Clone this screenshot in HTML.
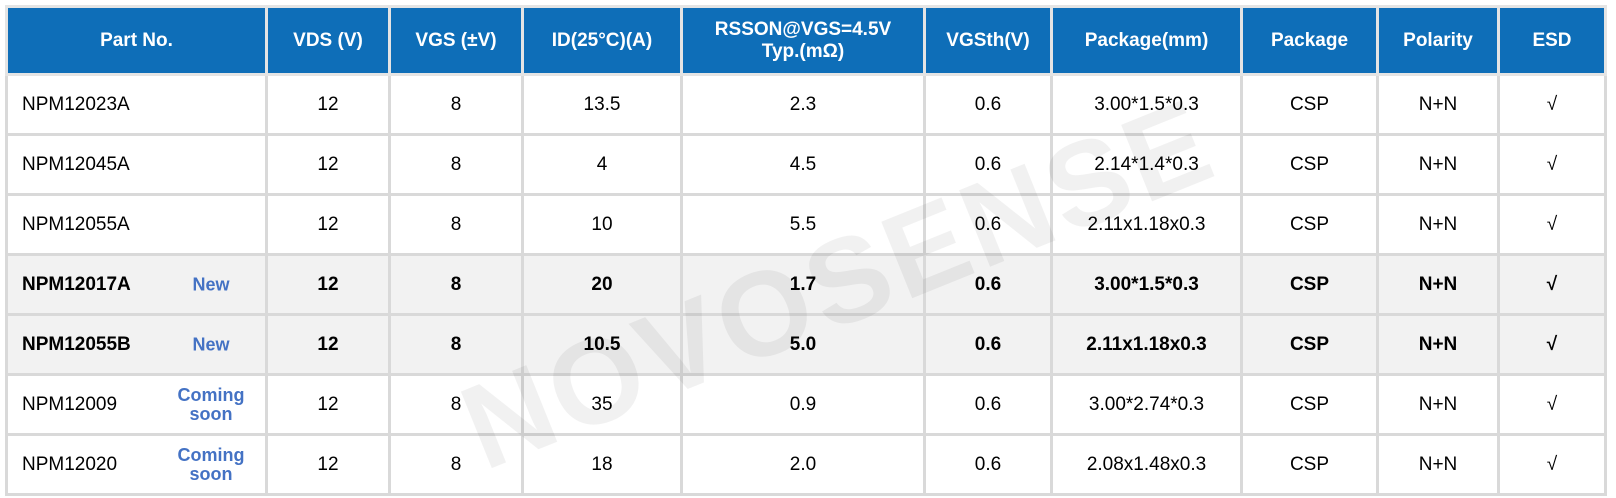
<!DOCTYPE html>
<html><head><meta charset="utf-8"><style>
body{margin:0;width:1616px;height:498px;background:#fff;overflow:hidden;position:relative;font-family:"Liberation Sans",Arial,sans-serif;}
table{position:absolute;left:5px;top:5px;border-collapse:collapse;table-layout:fixed;}
td,th{border:3px solid #d9d9d9;text-align:center;font-size:19px;color:#000;padding:0;}
th{background:#0e6eb8;color:#fff;font-weight:bold;height:65px;border-color:#e4e4e4;line-height:22px;}
td{height:57px;}
td.pn{text-align:left;padding-left:14px;position:relative;}
tr.hl td{background:#f2f2f2;font-weight:bold;}
.tag{position:absolute;color:#4472c4;font-weight:bold;font-size:18px;line-height:19px;text-align:center;width:90px;left:158px;top:50%;transform:translateY(-50%);}
.wm{position:absolute;left:440px;top:215px;font-size:120px;font-weight:bold;color:rgba(0,0,0,0.055);transform:rotate(-22deg);letter-spacing:4px;z-index:2;pointer-events:none}
</style></head><body>
<table>
<colgroup><col style="width:260px"><col style="width:123px"><col style="width:133px"><col style="width:159px"><col style="width:243px"><col style="width:127px"><col style="width:190px"><col style="width:136px"><col style="width:121px"><col style="width:107px"></colgroup>
<tr><th>Part No.</th><th>VDS (V)</th><th>VGS (±V)</th><th>ID(25°C)(A)</th><th>RSSON@VGS=4.5V<br>Typ.(mΩ)</th><th>VGSth(V)</th><th>Package(mm)</th><th>Package</th><th>Polarity</th><th>ESD</th></tr>
<tr><td class="pn">NPM12023A</td><td>12</td><td>8</td><td>13.5</td><td>2.3</td><td>0.6</td><td>3.00*1.5*0.3</td><td>CSP</td><td>N+N</td><td>√</td></tr>
<tr><td class="pn">NPM12045A</td><td>12</td><td>8</td><td>4</td><td>4.5</td><td>0.6</td><td>2.14*1.4*0.3</td><td>CSP</td><td>N+N</td><td>√</td></tr>
<tr><td class="pn">NPM12055A</td><td>12</td><td>8</td><td>10</td><td>5.5</td><td>0.6</td><td>2.11x1.18x0.3</td><td>CSP</td><td>N+N</td><td>√</td></tr>
<tr class="hl"><td class="pn">NPM12017A<span class="tag">New</span></td><td>12</td><td>8</td><td>20</td><td>1.7</td><td>0.6</td><td>3.00*1.5*0.3</td><td>CSP</td><td>N+N</td><td>√</td></tr>
<tr class="hl"><td class="pn">NPM12055B<span class="tag">New</span></td><td>12</td><td>8</td><td>10.5</td><td>5.0</td><td>0.6</td><td>2.11x1.18x0.3</td><td>CSP</td><td>N+N</td><td>√</td></tr>
<tr><td class="pn">NPM12009<span class="tag">Coming<br>soon</span></td><td>12</td><td>8</td><td>35</td><td>0.9</td><td>0.6</td><td>3.00*2.74*0.3</td><td>CSP</td><td>N+N</td><td>√</td></tr>
<tr><td class="pn">NPM12020<span class="tag">Coming<br>soon</span></td><td>12</td><td>8</td><td>18</td><td>2.0</td><td>0.6</td><td>2.08x1.48x0.3</td><td>CSP</td><td>N+N</td><td>√</td></tr>
</table>
<div class="wm">NOVOSENSE</div>
</body></html>
